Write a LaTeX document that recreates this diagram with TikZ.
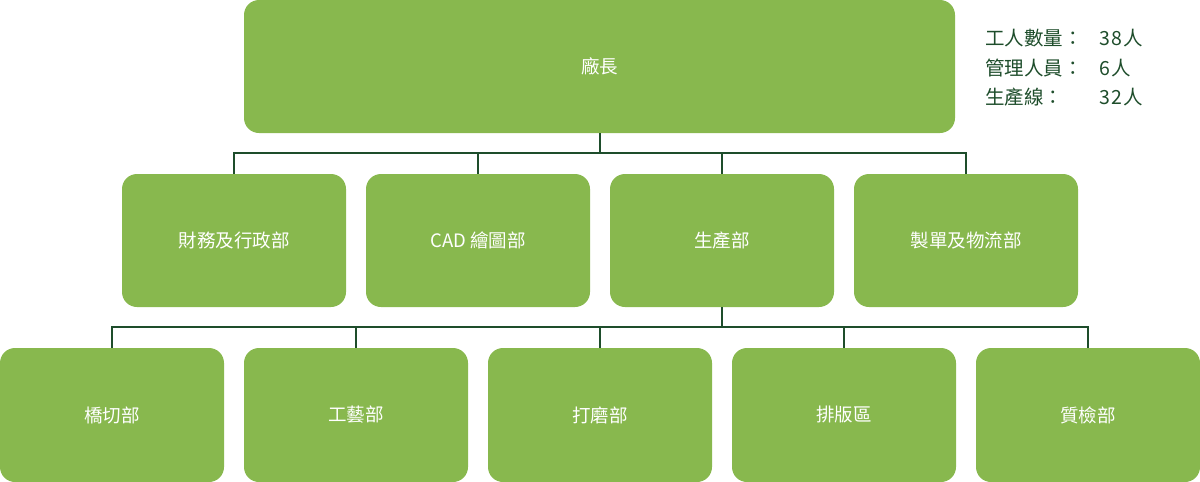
\documentclass[tikz,border=0pt]{standalone}
\usepackage{fontspec}
\setmainfont{Noto Sans CJK TC}
\usetikzlibrary{positioning}
\definecolor{OrgGreen}{HTML}{88B84E}
\definecolor{OrgDark}{HTML}{1E4D2B}
\tikzset{
orgbox/.style={fill=OrgGreen, rounded corners=15pt, align=center, text=white,
  minimum width=224pt, minimum height=133pt, inner sep=0pt, outer sep=0pt,
  font=\fontsize{18.5}{22}\selectfont},
orgboss/.style={orgbox, minimum width=711pt},
orgline/.style={draw=OrgDark, line width=2pt},
orginfo/.style={anchor=west, text=OrgDark, inner sep=0pt, font=\fontsize{19.5}{22}\selectfont}
}
\begin{document}
\begin{tikzpicture}[x=1pt, y=-1pt, node distance=20pt and 20pt]
\useasboundingbox (0,0) rectangle (1200,482);
\node[orgboss] (boss) at (599.5,66.5) {廠長};

\node[orgbox] (admin) at (234,240.5) {財務及行政部};
\node[orgbox, right=of admin] (cad) {CAD 繪圖部};
\node[orgbox, right=of cad] (prod) {生產部};
\node[orgbox, right=of prod] (order) {製單及物流部};

\node[orgbox, minimum height=134pt] (cut) at (112,415) {橋切部};
\node[orgbox, minimum height=134pt, right=of cut] (craft) {工藝部};
\node[orgbox, minimum height=134pt, right=of craft] (grind) {打磨部};
\node[orgbox, minimum height=134pt, right=of grind] (layout) {排版區};
\node[orgbox, minimum height=134pt, right=of layout] (qc) {質檢部};

\foreach \dept in {admin,cad,prod,order}
  \draw[orgline] (boss.south) -- ++(0,20) -| (\dept.north);
\foreach \dept in {cut,craft,grind,layout,qc}
  \draw[orgline] (prod.south) -- ++(0,20) -| (\dept.north);

\node[orginfo] (lbla) at (985,38) {工人數量：};
\node[orginfo] (lblb) at (985,68) {管理人員：};
\node[orginfo] (lblc) at (985,97) {生產線：};
\node[orginfo] (numa) at (1099,38) {\addfontfeature{LetterSpace=8}38人};
\node[orginfo] (numb) at (1099,68) {\addfontfeature{LetterSpace=8}6人};
\node[orginfo] (numc) at (1099,97) {\addfontfeature{LetterSpace=8}32人};
\end{tikzpicture}
\end{document}
